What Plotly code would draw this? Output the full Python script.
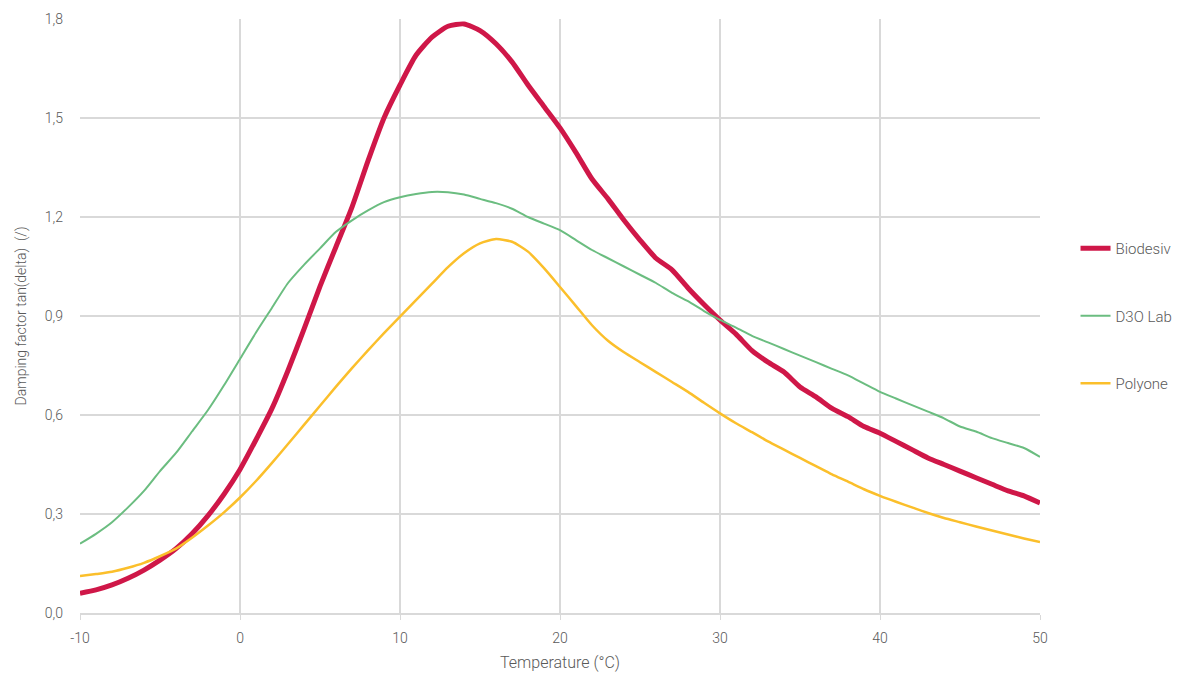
import plotly.graph_objects as go

temperature = list(range(-10, 51))

biodesiv = [0.06, 0.07, 0.085, 0.105, 0.13, 0.16, 0.195, 0.24, 0.295, 0.36,
            0.435, 0.525, 0.62, 0.735, 0.86, 0.99, 1.11, 1.23, 1.37, 1.50,
            1.60, 1.69, 1.745, 1.778, 1.785, 1.765, 1.725, 1.67, 1.60, 1.535,
            1.47, 1.395, 1.315, 1.255, 1.19, 1.13, 1.075, 1.04, 0.985, 0.935,
            0.888, 0.845, 0.795, 0.76, 0.73, 0.685, 0.655, 0.62, 0.595, 0.565,
            0.545, 0.52, 0.495, 0.47, 0.45, 0.43, 0.41, 0.39, 0.37, 0.355, 0.333]

d3o_lab = [0.21, 0.24, 0.275, 0.32, 0.37, 0.43, 0.485, 0.55, 0.615, 0.69,
           0.77, 0.85, 0.925, 1.0, 1.055, 1.105, 1.155, 1.19, 1.22, 1.245,
           1.26, 1.27, 1.276, 1.275, 1.268, 1.255, 1.242, 1.225, 1.20, 1.18,
           1.16, 1.13, 1.10, 1.075, 1.05, 1.025, 1.0, 0.97, 0.945, 0.915,
           0.888, 0.865, 0.84, 0.82, 0.80, 0.78, 0.76, 0.74, 0.72, 0.695,
           0.67, 0.65, 0.63, 0.61, 0.59, 0.565, 0.55, 0.53, 0.515, 0.50, 0.473]

polyone = [0.112, 0.118, 0.125, 0.137, 0.152, 0.172, 0.195, 0.228, 0.265, 0.305,
           0.35, 0.40, 0.455, 0.512, 0.57, 0.628, 0.686, 0.742, 0.796, 0.848,
           0.898, 0.948, 0.998, 1.048, 1.09, 1.12, 1.133, 1.125, 1.095, 1.045,
           0.988, 0.93, 0.872, 0.825, 0.79, 0.76, 0.73, 0.70, 0.67, 0.637,
           0.605, 0.575, 0.548, 0.52, 0.495, 0.47, 0.445, 0.42, 0.398, 0.375,
           0.355, 0.337, 0.32, 0.303, 0.288, 0.275, 0.262, 0.25, 0.238, 0.226, 0.215]

x_ticks = [-10, 0, 10, 20, 30, 40, 50]
x_tick_labels = ["-10", "0", "10", "20", "30", "40", "50"]
y_ticks = [0.0, 0.3, 0.6, 0.9, 1.2, 1.5, 1.8]

series = [
    ("Biodesiv", biodesiv, "#CF1748", 5),
    ("D3O Lab", d3o_lab, "#6BBD80", 2),
    ("Polyone", polyone, "#FBBF2B", 2.5),
]

fig = go.Figure()
for name, vals, color, width in series:
    fig.add_trace(go.Scatter(
        x=temperature, y=vals, name=name, mode="lines",
        legendgroup=name,
        line=dict(color=color, width=width, shape="spline", smoothing=0.6),
    ))

grey = "#595959"
fig.update_layout(
    width=1186, height=675,
    margin=dict(l=72, r=154, t=11, b=70, autoexpand=False),
    paper_bgcolor="white", plot_bgcolor="white",
    separators=", ",
    font=dict(family="Roboto", size=14, color=grey, weight=300),
    showlegend=True,
    legend=dict(x=1.037, xanchor="left", y=0.5, yanchor="middle",
                tracegroupgap=45, font=dict(size=15, color=grey, weight=300)),
    xaxis=dict(
        range=[-10, 50], tickvals=x_ticks, ticktext=x_tick_labels,
        showgrid=True, gridcolor="#D9D9D9", automargin=False,
        gridwidth=1.5, zeroline=False, showline=True, linecolor="#D9D9D9",
        linewidth=1.5, ticks="outside", ticklen=5, tickcolor="#D9D9D9",
        ticklabelstandoff=6,
        title=dict(text="Temperature (°C)", standoff=12,
                   font=dict(size=16, color=grey, weight=300)),
        tickfont=dict(size=14, color=grey, weight=300),
    ),
    yaxis=dict(
        range=[0, 1.8], tickvals=y_ticks, tickformat=".1f", showgrid=True,
        gridcolor="#D9D9D9", gridwidth=1.5, zeroline=False, showline=False,
        ticks="", ticklabelstandoff=16, automargin=False,
        title=dict(text="Damping factor tan(delta)  (/)", standoff=14,
                   font=dict(size=14, color=grey, weight=300)),
        tickfont=dict(size=14, color=grey, weight=300),
    ),
)

fig.write_html("out.html")
